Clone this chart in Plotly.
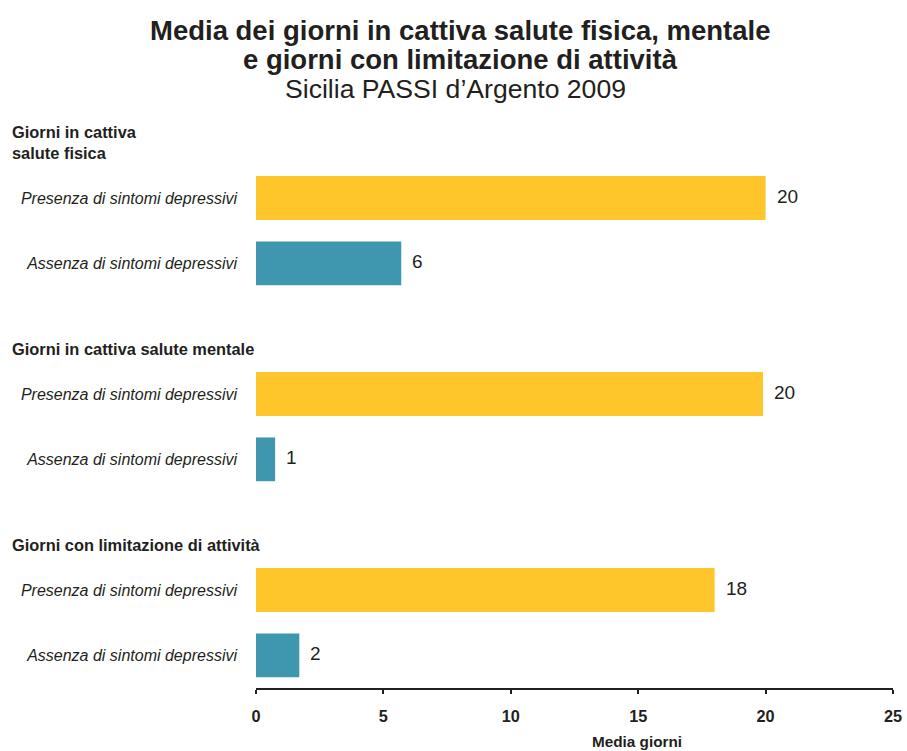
import plotly.graph_objects as go

groups = ["Giorni in cattiva<br>salute fisica",
          "Giorni in cattiva salute mentale",
          "Giorni con limitazione di attività"]
subcats = ["Presenza di sintomi depressivi", "Assenza di sintomi depressivi"]
presenza = [20.0, 19.9, 18.0]
assenza = [5.7, 0.75, 1.7]
x_ticks = [0, 5, 10, 15, 20, 25]
title_lines = ["<b>Media dei giorni in cattiva salute fisica, mentale</b>",
               "<b>e giorni con limitazione di attività</b>",
               "Sicilia PASSI d’Argento 2009"]
x_title = "Media giorni"

YELLOW = "#FEC62A"
BLUE = "#3F97AF"
INK = "#231f20"
FONT = "Liberation Sans, Arial, sans-serif"

W, H = 907, 751
ML, MR, MT, MB = 256, 14, 100, 63
PW = W - ML - MR


def px_to_paper_x(px):
    return (px - ML) / PW


slot = 3
p_idx = [g * slot + 1 for g in range(len(groups))]
a_idx = [g * slot + 2 for g in range(len(groups))]

fig = go.Figure()
fig.add_trace(go.Bar(x=presenza, y=p_idx, orientation="h", width=0.67,
                     marker=dict(color=YELLOW, line=dict(width=0)), hoverinfo="skip"))
fig.add_trace(go.Bar(x=assenza, y=a_idx, orientation="h", width=0.67,
                     marker=dict(color=BLUE, line=dict(width=0)), hoverinfo="skip"))

ann = []
for xs, ys in ((presenza, p_idx), (assenza, a_idx)):
    for v, yy in zip(xs, ys):
        ann.append(dict(x=v, y=yy, xref="x", yref="y", text=f"{v:.0f}", showarrow=False,
                        xanchor="left", xshift=9, yshift=2,
                        font=dict(family=FONT, size=19, color=INK)))
for g, yy in zip(groups, p_idx):
    ann.append(dict(x=px_to_paper_x(10), xref="paper", y=yy - 0.5, yref="y",
                    text=f"<b>{g}</b>", showarrow=False, xanchor="left",
                    yanchor="bottom", yshift=1, align="left",
                    font=dict(family=FONT, size=16.4, color=INK)))

ann.append(dict(x=px_to_paper_x(637), xref="paper", y=0, yref="paper",
                yshift=-53, yanchor="middle", xanchor="center", text=f"<b>{x_title}</b>",
                showarrow=False, font=dict(family=FONT, size=15.3, color=INK)))
for line, cy, cx, fs in zip(title_lines, [30, 59, 89], [460, 460, 455], [27.5, 27.5, 26.6]):
    ann.append(dict(x=px_to_paper_x(cx), xref="paper", y=1, yref="paper",
                    yshift=(100 - cy), yanchor="middle", xanchor="center",
                    showarrow=False, text=line,
                    font=dict(family=FONT, size=fs, color=INK)))

tickvals = []
ticktext = []
for pi, ai in zip(p_idx, a_idx):
    tickvals += [pi, ai]
    ticktext += subcats

fig.update_layout(
    width=W, height=H,
    margin=dict(l=ML, r=MR, t=MT, b=MB, autoexpand=False),
    paper_bgcolor="white", plot_bgcolor="white",
    showlegend=False, barmode="overlay",
    font=dict(family=FONT, color=INK),
    annotations=ann,
    xaxis=dict(range=[0, 25], tickvals=x_ticks, ticktext=[f"<b>{t}</b>" for t in x_ticks],
               showgrid=False, zeroline=False, showline=True, linecolor=INK,
               linewidth=2, ticks="outside", ticklen=4, tickwidth=2, tickcolor=INK,
               ticklabelstandoff=8, automargin=False,
               tickfont=dict(family=FONT, size=16.3, color=INK), fixedrange=True),
    yaxis=dict(range=[len(groups) * slot - 0.5, -0.5], tickvals=tickvals, ticktext=ticktext,
               showgrid=False, zeroline=False, showline=False, ticks="",
               ticklabelstandoff=18, automargin=False,
               tickfont=dict(family=FONT, size=16, color=INK, style="italic"),
               fixedrange=True),
)

# remove the default 8px page margin so the 907x751 figure fills the window exactly
fig.write_html("out.html", config={"displayModeBar": False},
               post_script="document.body.style.margin='0';")
